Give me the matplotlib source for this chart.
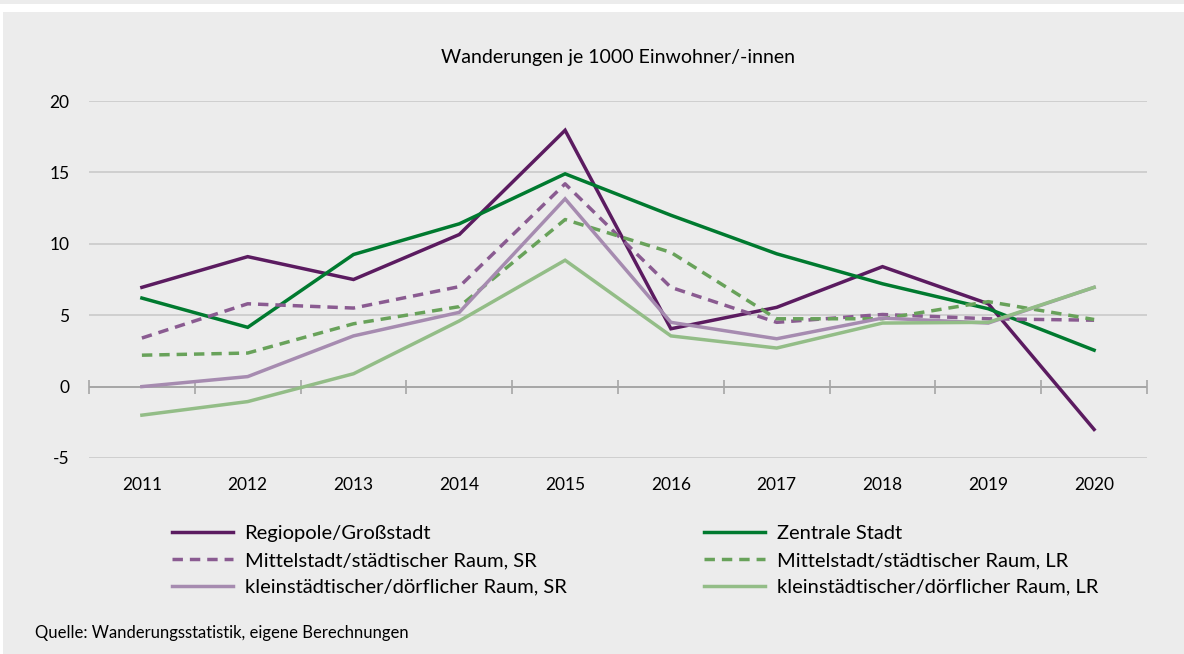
import matplotlib.pyplot as plt
from matplotlib.patches import Rectangle

years = ["2011", "2012", "2013", "2014", "2015", "2016", "2017", "2018", "2019", "2020"]

regiopole = [6.95, 9.1, 7.5, 10.65, 17.95, 4.05, 5.55, 8.4, 5.8, -3.0]
zentrale = [6.2, 4.15, 9.25, 11.4, 14.9, 12.0, 9.3, 7.2, 5.45, 2.55]
mittel_sr = [3.4, 5.8, 5.5, 7.0, 14.2, 6.95, 4.5, 5.05, 4.75, 4.65]
mittel_lr = [2.2, 2.35, 4.4, 5.6, 11.7, 9.4, 4.75, 4.75, 5.95, 4.7]
klein_sr = [0.0, 0.7, 3.55, 5.2, 13.15, 4.5, 3.35, 4.8, 4.45, 6.95]
klein_lr = [-2.0, -1.05, 0.9, 4.6, 8.85, 3.55, 2.7, 4.45, 4.5, 6.95]

labels = [
    "Regiopole/Großstadt",
    "Zentrale Stadt",
    "Mittelstadt/städtischer Raum, SR",
    "Mittelstadt/städtischer Raum, LR",
    "kleinstädtischer/dörflicher Raum, SR",
    "kleinstädtischer/dörflicher Raum, LR",
]
colors = ["#5b1b60", "#007a2f", "#8a5b91", "#68a25a", "#a68bb0", "#93bd87"]
dashed = [False, False, True, True, False, False]

plt.rcParams["font.family"] = ["Lato", "DejaVu Sans"]
bg = "#ececec"

fig = plt.figure(figsize=(11.84, 6.54), dpi=100)
fig.patch.set_facecolor(bg)
# white band at top and thin white strip at left
fig.patches.append(Rectangle((0, 1 - 12 / 654), 1, 8 / 654, transform=fig.transFigure,
                             facecolor="white", edgecolor="none", zorder=0))
fig.patches.append(Rectangle((0, 0), 3 / 1184, 1 - 12 / 654, transform=fig.transFigure,
                             facecolor="white", edgecolor="none", zorder=0))

ax = fig.add_axes([89 / 1184, 1 - 458 / 654, 1058 / 1184, 357 / 654])
ax.set_facecolor(bg)

series = [regiopole, zentrale, mittel_sr, mittel_lr, klein_sr, klein_lr]
x = list(range(len(years)))
handles = []
for vals, lab, col, d in zip(series, labels, colors, dashed):
    ls = (0, (3, 2)) if d else "-"
    (ln,) = ax.plot(x, vals, color=col, lw=2.5, ls=ls, label=lab, zorder=3,
                    solid_joinstyle="miter", dash_capstyle="butt")
    handles.append(ln)

ax.set_xlim(-0.5, 9.5)
ax.set_ylim(-5, 20)
ax.set_yticks([-5, 0, 5, 10, 15, 20])
ax.set_yticklabels(["-5", "0", "5", "10", "15", "20"])
for v in [-5, 5, 10, 15, 20]:
    ax.axhline(v, color="#cfcfcf", lw=1.4, zorder=1)
ax.axhline(0, color="#a6a6a6", lw=1.4, zorder=2)

ax.set_xticks(x)
ax.set_xticklabels(years)
ax.tick_params(axis="both", length=0, labelsize=12.5, colors="black")
ax.tick_params(axis="x", pad=14)
ax.tick_params(axis="y", pad=14)
for s in ax.spines.values():
    s.set_visible(False)

# tick marks on the zero line between categories
sec = ax.secondary_xaxis(0.2)
sec.set_xticks([i - 0.5 for i in range(len(years) + 1)])
sec.set_xticklabels([])
sec.spines["bottom"].set_visible(False)
sec.tick_params(axis="x", direction="inout", length=10, width=1.2, color="#a6a6a6")

fig.text(618 / 1184, 1 - 57 / 654, "Wanderungen je 1000 Einwohner/-innen",
         ha="center", va="center", fontsize=14)

leg_kw = dict(loc="upper left", frameon=False, fontsize=14.5, handlelength=3.0,
              handletextpad=0.6, labelspacing=0.48)
fig.legend([handles[0], handles[2], handles[4]], [labels[0], labels[2], labels[4]],
           bbox_to_anchor=(154 / 1184, 1 - 507 / 654), **leg_kw)
fig.legend([handles[1], handles[3], handles[5]], [labels[1], labels[3], labels[5]],
           bbox_to_anchor=(686 / 1184, 1 - 507 / 654), **leg_kw)

fig.text(35 / 1184, 1 - 633 / 654, "Quelle: Wanderungsstatistik, eigene Berechnungen",
         ha="left", va="center", fontsize=12)

fig.savefig("out.png", dpi=100, facecolor=fig.get_facecolor())
